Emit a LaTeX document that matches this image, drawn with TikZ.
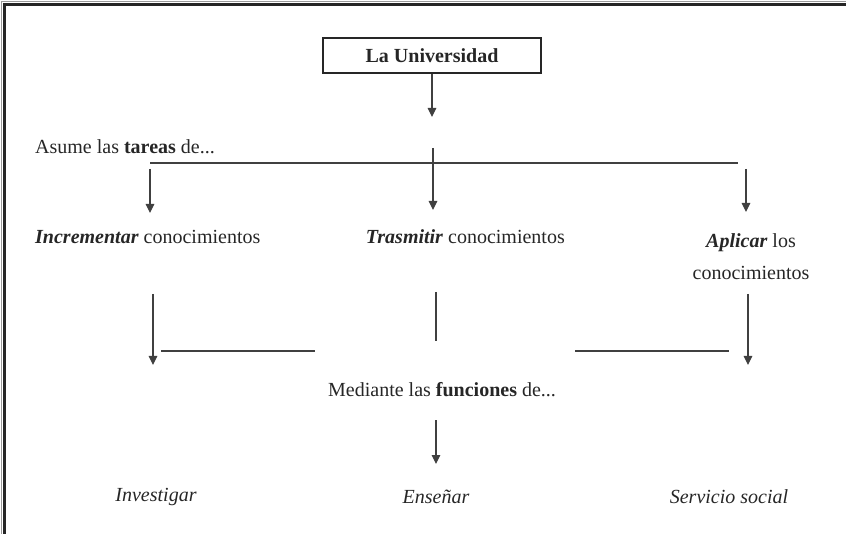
\documentclass[tikz,border=0pt]{standalone}
\usepackage{fontspec}
\setmainfont{Liberation Serif}
\usetikzlibrary{arrows.meta}
\begin{document}
\begin{tikzpicture}[x=1pt,y=-1pt,
  txt/.style={inner sep=0pt, font=\fontsize{20pt}{24pt}\selectfont, text=black!85},
  itx/.style={txt, font=\fontsize{20pt}{24pt}\selectfont\itshape},
  conn/.style={draw=black!75, line width=1.1pt},
  arr/.style={conn, -{Triangle[width=8.5pt,length=9pt]}},
  unibox/.style={draw=black!85, line width=2pt, minimum width=218pt, minimum height=35pt, inner sep=0pt,
    font=\fontsize{20pt}{24pt}\selectfont\bfseries, text=black!85}]
\useasboundingbox (0,0) rectangle (846,534);
% frame (top and left)
\draw[line width=3pt, black!85] (4.5,534) -- (4.5,4.5) -- (846,4.5);
\draw[line width=0.8pt, black!40] (1,534) -- (1,1) -- (846,1);

% nodes
\node[unibox] (uni) at (432,55.5) {La Universidad};
\node[txt, anchor=west] (asume) at (35,147) {Asume las \textbf{tareas} de...};
\node[txt, anchor=west] (incr) at (35,237) {\textbf{\textit{Incrementar}} conocimientos};
\node[txt, anchor=east] (tras) at (565,237) {\textbf{\textit{Trasmitir}} conocimientos};
\node[txt, align=center, font=\fontsize{20pt}{32pt}\selectfont] (aplic) at (751,257) {\textbf{\textit{Aplicar}} los\\conocimientos};
\node[txt, anchor=west] (med) at (328,390) {Mediante las \textbf{funciones} de...};
\node[itx] (inv) at (156,497) {Investigar};
\node[itx] (ens) at (436,497) {Enseñar};
\node[itx] (serv) at (729,497) {Servicio social};

% coordinates
\coordinate (u1) at (432,117);
\coordinate (hl) at (150,163);
\coordinate (hr) at (738,163);
\coordinate (m1) at (433,148);
\coordinate (m2) at (433,210);
\coordinate (l1) at (150,169);
\coordinate (l2) at (150,213);
\coordinate (r1) at (746,169);
\coordinate (r2) at (746,212);
\coordinate (ll1) at (153,294);
\coordinate (ll2) at (153,365);
\coordinate (lh1) at (161,351);
\coordinate (lh2) at (315,351);
\coordinate (mv1) at (436,292);
\coordinate (mv2) at (436,341);
\coordinate (rh1) at (575,351);
\coordinate (rh2) at (729,351);
\coordinate (rr1) at (748,294);
\coordinate (rr2) at (748,365);
\coordinate (f1) at (436,420);
\coordinate (f2) at (436,464);

% connectors
\draw[arr] (uni.south) -- (u1);
\draw[conn] (hl) -- (hr);
\draw[arr] (m1) -- (m2);
\draw[arr] (l1) -- (l2);
\draw[arr] (r1) -- (r2);
\draw[arr] (ll1) -- (ll2);
\draw[conn] (lh1) -- (lh2);
\draw[conn] (mv1) -- (mv2);
\draw[conn] (rh1) -- (rh2);
\draw[arr] (rr1) -- (rr2);
\draw[arr] (f1) -- (f2);
\end{tikzpicture}
\end{document}
